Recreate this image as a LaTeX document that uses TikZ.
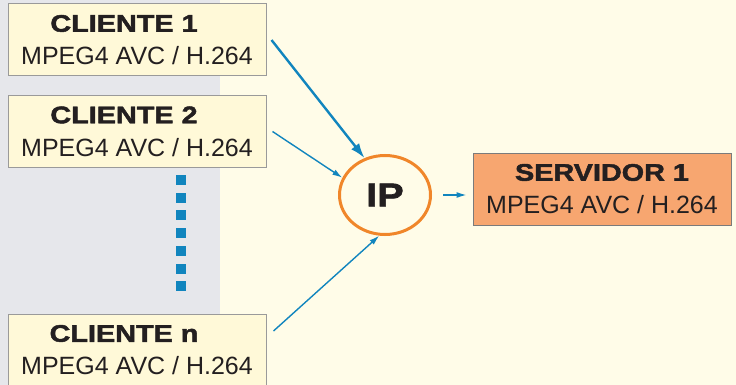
\documentclass[tikz,border=0pt]{standalone}
\usepackage{fontspec}
\setmainfont{Liberation Sans}
\newfontfamily\heavyfont[FakeStretch=1.2,BoldFeatures={FakeBold=2}]{Liberation Sans}
\usetikzlibrary{shapes.geometric,arrows.meta}
\definecolor{panelgray}{HTML}{E6E7EB}
\definecolor{panelcream}{HTML}{FFFCE8}
\definecolor{boxyellow}{HTML}{FFF9D8}
\definecolor{boxline}{HTML}{9A9A9A}
\definecolor{ipline}{HTML}{F0862A}
\definecolor{srvfill}{HTML}{F7A670}
\definecolor{linkblue}{HTML}{1185BE}
\definecolor{textdark}{HTML}{231F20}
\newcommand{\boxtitle}[1]{{\heavyfont\bfseries\fontsize{24}{33}\selectfont #1}}
\begin{document}
\begin{tikzpicture}[x=1pt,y=-1pt,
		clientbox/.style={rectangle,draw=boxline,fill=boxyellow,line width=1pt,
			minimum width=258pt,minimum height=72pt,inner sep=0pt,align=center,
			text=textdark,font=\fontsize{25}{33}\selectfont},
		serverbox/.style={clientbox,fill=srvfill,draw=boxline!80!black},
		ipnode/.style={ellipse,draw=ipline,line width=3pt,fill=panelcream,
			minimum width=91pt,minimum height=79pt,inner sep=0pt,text=textdark,
			font=\heavyfont\bfseries\fontsize{33}{33}\selectfont},
		link/.style={draw=linkblue,line width=1.4pt,-{Latex[length=10pt,width=6pt]}}
		]
		\useasboundingbox (0,0) rectangle (736,385);
		% panels
		\fill[panelgray] (0,0) rectangle (220,385);
		\fill[panelcream] (220,0) rectangle (736,385);
		
		\node[clientbox](C1) at (137,40){\hspace*{-26pt}\boxtitle{CLIENTE 1}\\MPEG4 AVC / H.264};
		\node[clientbox](C2) at (137,131.5){\hspace*{-26pt}\boxtitle{CLIENTE 2}\\MPEG4 AVC / H.264};
		\node[clientbox](Cn) at (137,350){\hspace*{-26pt}\boxtitle{CLIENTE n}\\MPEG4 AVC / H.264};
		
		\foreach \k in {0,...,6}
		\fill[linkblue] (176,{175+17.7*\k}) rectangle ++(10,10);
		
		\node[ipnode](IP) at (385,195){IP};
		\node[serverbox](S1) at (602,189){\boxtitle{SERVIDOR 1}\\MPEG4 AVC / H.264};
		
		\draw[link,line width=2.4pt,-{Latex[length=15pt,width=10pt]}] ([xshift=5pt]C1.east) -- (IP.119);
		\draw[link] ([xshift=6pt]C2.east) -- (IP.158);
		\draw[link] ([xshift=7pt,yshift=19pt]Cn.east) -- (IP.262);
		\draw[link,shorten >=6pt] ([xshift=11pt]IP.east) -- (IP.east -| S1.west);
	\end{tikzpicture}
\end{document}
